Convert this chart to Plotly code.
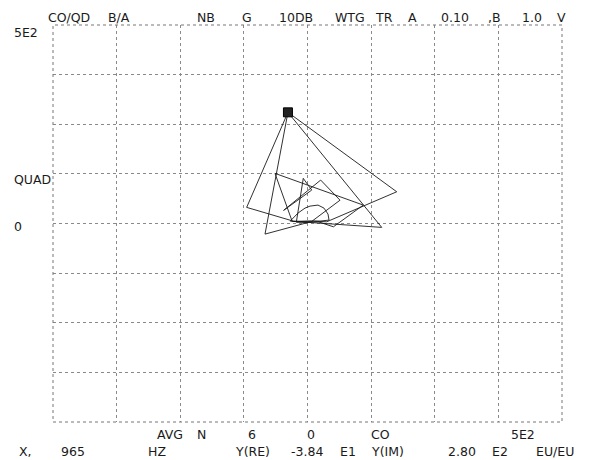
import plotly.graph_objects as go

# ---- data (co = real part, quad = imaginary part), EU/EU ----
co_vals = [0, -12, -28, -119.5, -38.4, 175.3, 37.7, 12, -30, -63.9, 109.6, 50.9, 22, -22,
           -8.3, 8.3, -47, 25.9, 63.9, 8, -83.5, -38.4, 145.8, -34, -18.7, -4.9, 4.9, 20.6,
           32.4, 40.3, 42.3, 24.6, 4.9, -14.7, -24]
quad_vals = [2, 5, 6, 40.6, 280, 79.9, 4.3, 6, 5, 126.3, 46.4, -8.3, 4, 3,
             113.7, 84.2, 33, 109.4, 58.7, 5, -26.7, 280, -9.8, 6, 26.2, 38.8, 43.8, 46.4,
             38.8, 23.7, 8.6, 6, 6, 6, 5]
cursor_re = [-38.4]
cursor_im = [280]
grid_ticks = [-500, -375, -250, -125, 0, 125, 250, 375, 500]

header_tokens = ["CO/QD", "B/A", "NB", "G", "10DB", "WTG", "TR", "A", "0.10", ",B", "1.0", "V"]
header_x = [69, 119, 206, 247, 296, 350, 384, 412, 455, 494, 532, 561]
row1_tokens = ["AVG", "N", "6", "0", "CO", "5E2"]
row1_x = [170, 201, 252, 311, 380, 523]
row2_tokens = ["X,", "965", "HZ", "Y(RE)", "-3.84", "E1", "Y(IM)", "2.80", "E2", "EU/EU"]
row2_x = [25, 73, 157, 252, 307, 348, 387, 462, 500, 555]
left_tokens = ["5E2", "QUAD", "0"]
left_y = [32, 179, 227]

W, H = 600, 460
L, R, T, B = 53, 38, 25, 38
PW, PH = W - L - R, H - T - B

def px(x):
    return (x - L) / PW

def py(y):
    return (H - B - y) / PH

FONT = "DejaVu Sans"
INK = "#1a1a1a"

fig = go.Figure()
fig.add_trace(go.Scatter(x=co_vals, y=quad_vals, mode="lines",
                         line=dict(color=INK, width=0.9), hoverinfo="skip"))
fig.add_trace(go.Scatter(x=cursor_re, y=cursor_im, mode="markers",
                         marker=dict(symbol="square", size=9, color="#222",
                                     line=dict(color="#000", width=1)),
                         hoverinfo="skip"))

ax = dict(range=[-500, 500], tickvals=grid_ticks, showticklabels=False, ticks="",
          showgrid=True, gridcolor="#8a8a8a", gridwidth=1, griddash="dot",
          zeroline=False, showline=False, fixedrange=True)
fig.update_xaxes(**ax)
fig.update_yaxes(**ax)

fig.add_shape(type="rect", xref="paper", yref="paper", x0=0, y0=0, x1=1, y1=1,
              line=dict(color="#777", width=1, dash="dot"))

ann = []
for t, x in zip(header_tokens, header_x):
    ann.append(dict(text=t, x=px(x), y=py(17)))
for t, x in zip(row1_tokens, row1_x):
    ann.append(dict(text=t, x=px(x), y=py(435)))
for t, x in zip(row2_tokens, row2_x):
    ann.append(dict(text=t, x=px(x), y=py(452)))
for t, y in zip(left_tokens, left_y):
    ann.append(dict(text=t, x=px(12), y=py(y), xanchor="left"))
for a in ann:
    a.setdefault("xanchor", "center")
    a.update(xref="paper", yref="paper", yanchor="middle", showarrow=False,
             font=dict(family=FONT, size=12.5, color=INK))
fig.update_layout(annotations=ann)

fig.update_layout(width=W, height=H, margin=dict(l=L, r=R, t=T, b=B),
                  paper_bgcolor="white", plot_bgcolor="white", showlegend=False)

fig.write_html("out.html")
